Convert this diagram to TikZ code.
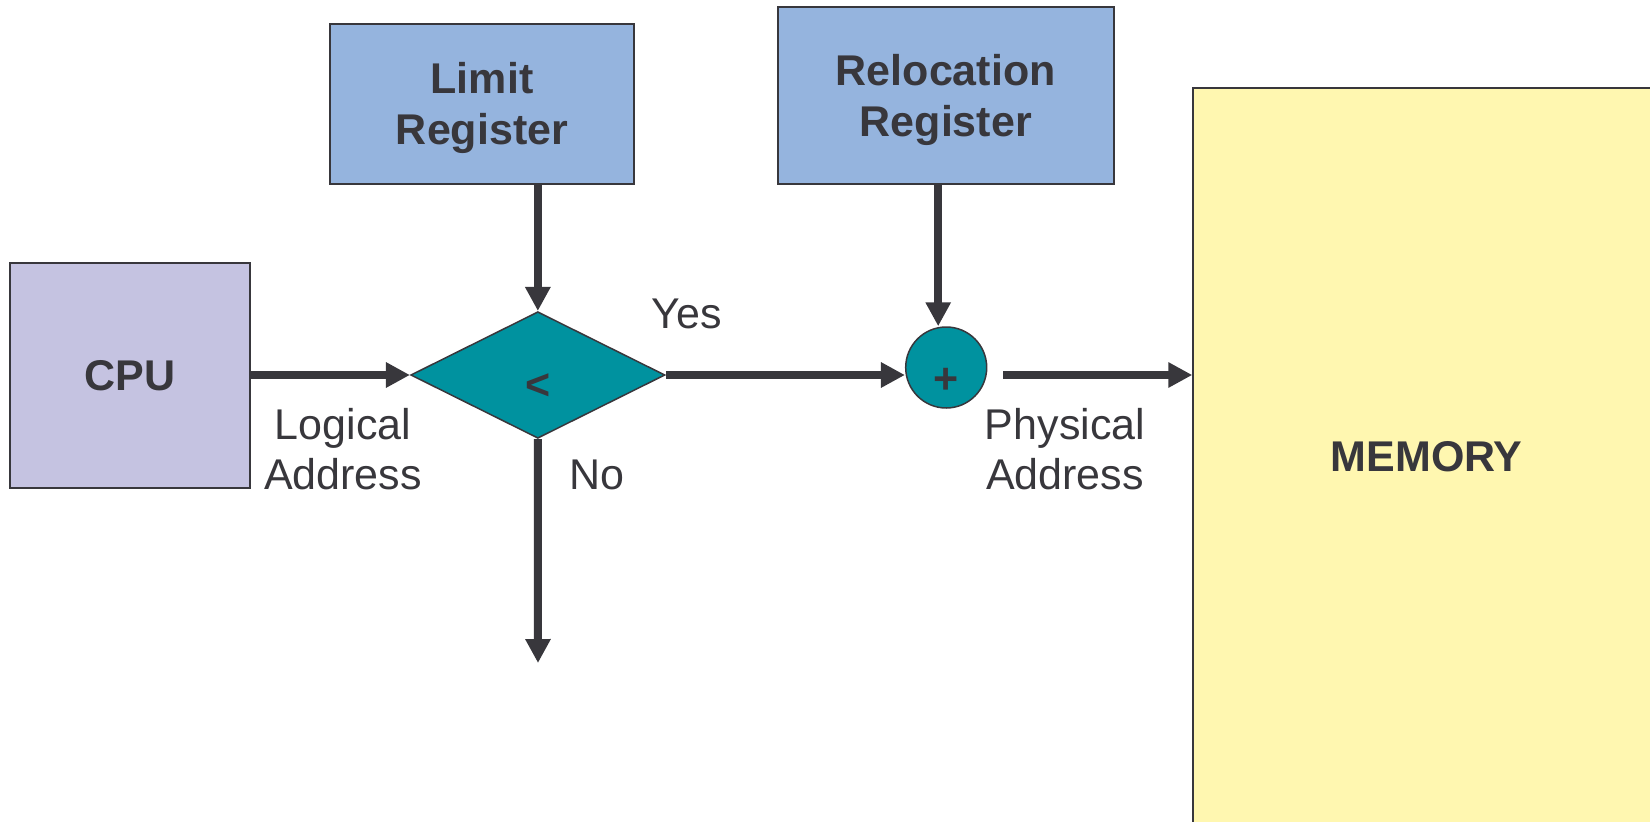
\documentclass[tikz,border=0pt]{standalone}
\usepackage{fontspec}
\setmainfont{Liberation Sans}
\usetikzlibrary{shapes.geometric,arrows.meta}
\definecolor{ink}{HTML}{38373C}
\definecolor{cpufill}{HTML}{C5C3E1}
\definecolor{regfill}{HTML}{95B4DE}
\definecolor{tealfill}{HTML}{00929F}
\definecolor{memfill}{HTML}{FFF7B0}
\begin{document}
\begin{tikzpicture}[x=1pt,y=-1pt,
  box/.style={draw=ink, line width=2pt, rectangle, inner sep=0pt, text=ink,
    font=\bfseries\fontsize{43}{51}\selectfont, align=center, text depth=0pt},
  regbox/.style={box, fill=regfill, text depth=-4pt},
  arr/.style={draw=ink, line width=8pt, -{Triangle[length=24pt,width=24pt]}},
  lbl/.style={text=ink, font=\fontsize{43}{50}\selectfont, inner sep=0pt,
    align=center, text depth=0pt, anchor=south},
  sym/.style={text=ink, font=\bfseries\fontsize{43}{50}\selectfont, inner sep=0pt, anchor=base}]
\useasboundingbox (0,0) rectangle (1650,822);
\clip (0,0) rectangle (1650,822);
\node[box, fill=cpufill, minimum width=240.2pt, minimum height=224.7pt] (cpu) at (130,375.7) {CPU};
\node[regbox, minimum width=304pt, minimum height=159.7pt] (limit) at (482,103.85) {Limit\\Register};
\node[regbox, minimum width=336.4pt, minimum height=176.4pt] (reloc) at (945.8,95.5) {Relocation\\Register};
\node[box, fill=memfill, minimum width=466.7pt, minimum height=737.3pt] (mem) at (1426.65,456.35) {MEMORY};
\node[diamond, draw=ink, line width=1.5pt, fill=tealfill, minimum width=254.3pt, minimum height=126.6pt, inner sep=0pt] (cmp) at (537.85,375) {};
\node[circle, draw=ink, line width=1.5pt, fill=tealfill, minimum size=81pt, inner sep=0pt] (add) at (946.2,367.5) {};
\node[sym] (lt) at (538,399) {<};
\node[sym] (plus) at (946,393) {+};
\coordinate (nend) at (538,663);
\coordinate (physstart) at ([xshift=16pt]add.east |- cmp.east);
\draw[arr] (cpu.east |- cmp.west) -- (cmp.west);
\draw[arr] (cmp.east) -- (cmp.east -| add.west);
\draw[arr] (physstart) -- (physstart -| mem.west);
\draw[arr] (limit.south -| cmp.north) -- (cmp.north);
\draw[arr] ([xshift=-8pt]reloc.south -| add.north) -- ([xshift=-8pt]add.north);
\draw[arr] (cmp.south) -- (nend);
\node[lbl] (yes) at (687,329) {Yes};
\node[lbl] (no) at (597,490) {No};
\node[lbl] (logaddr) at (343,490) {Logical\\Address};
\node[lbl] (phyaddr) at (1065,490) {Physical\\Address};
\end{tikzpicture}
\end{document}
